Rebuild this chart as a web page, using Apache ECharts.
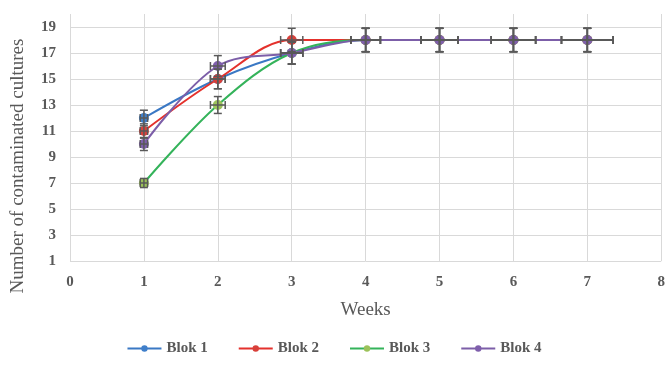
<!DOCTYPE html>
<html lang="en">
<head>
    <meta charset="UTF-8">
    <script src="https://cdn.jsdelivr.net/npm/echarts@6/dist/echarts.min.js"></script>
    <title>Contaminated cultures</title>
    <style>
        html, body { margin: 0; padding: 0; background: #fff; }
    </style>
</head>
<body>
<div id="chart" style="width: 668px;height:368px;"></div>
<script type="text/javascript">
    // data
    var weeks = [1, 2, 3, 4, 5, 6, 7];
    var blok1 = [12, 15, 17, 18, 18, 18, 18];
    var blok2 = [11, 15, 18, 18, 18, 18, 18];
    var blok3 = [7, 13, 17, 18, 18, 18, 18];
    var blok4 = [10, 16, 17, 18, 18, 18, 18];
    var names = ['Blok 1', 'Blok 2', 'Blok 3', 'Blok 4'];
    var errPct = 0.05; // 5% error bars, both directions

    var font = 'Liberation Serif';
    var gray = '#595959';
    var lineColors = ['#3a78c4', '#e4312c', '#34b35a', '#7c5ea8'];
    var markColors = ['#3f7fca', '#d8403a', '#9cc25a', '#7f5fac'];

    function pairs(vals) {
        return weeks.map(function (w, i) { return [w, vals[i]]; });
    }

    function errorBars(params, api) {
        var x = api.value(0), y = api.value(1);
        var ex = x * errPct, ey = y * errPct;
        var top = api.coord([x, y + ey]), bot = api.coord([x, y - ey]);
        var lft = api.coord([x - ex, y]), rgt = api.coord([x + ex, y]);
        var cap = 4;
        var st = { stroke: gray, lineWidth: 1.5 };
        function seg(x1, y1, x2, y2) {
            return { type: 'line', shape: { x1: x1, y1: y1, x2: x2, y2: y2 }, style: st };
        }
        return {
            type: 'group',
            children: [
                seg(top[0], top[1], bot[0], bot[1]),
                seg(top[0] - cap, top[1], top[0] + cap, top[1]),
                seg(bot[0] - cap, bot[1], bot[0] + cap, bot[1]),
                seg(lft[0], lft[1], rgt[0], rgt[1]),
                seg(lft[0], lft[1] - cap, lft[0], lft[1] + cap),
                seg(rgt[0], rgt[1] - cap, rgt[0], rgt[1] + cap)
            ]
        };
    }

    var allData = [blok1, blok2, blok3, blok4];
    var series = [];
    allData.forEach(function (vals, k) {
        series.push({
            name: names[k],
            type: 'line',
            smooth: 0.35,
            data: pairs(vals),
            symbol: 'circle',
            symbolSize: 10,
            lineStyle: { color: lineColors[k], width: 2 },
            itemStyle: { color: markColors[k] },
            z: 2
        });
    });
    allData.forEach(function (vals, k) {
        series.push({
            type: 'custom',
            renderItem: errorBars,
            data: pairs(vals),
            encode: { x: 0, y: 1 },
            silent: true,
            z: 3
        });
    });

    var myChart = echarts.init(document.getElementById('chart'));
    var option = {
        animation: false,
        backgroundColor: '#fff',
        grid: { left: 70, right: 5, top: 14, bottom: 107 },
        legend: {
            data: names,
            bottom: 7,
            left: 'center',
            itemWidth: 34,
            itemHeight: 8,
            itemGap: 30,
            textStyle: { fontFamily: font, fontWeight: 'bold', fontSize: 15, color: gray }
        },
        xAxis: {
            type: 'value',
            min: 0,
            max: 8,
            interval: 1,
            name: 'Weeks',
            nameLocation: 'middle',
            nameGap: 40,
            nameTextStyle: { fontFamily: font, fontSize: 19, color: gray },
            axisLine: { show: false },
            axisTick: { show: false },
            axisLabel: { fontFamily: font, fontWeight: 'bold', fontSize: 15, color: gray, margin: 14 },
            splitLine: { show: true, lineStyle: { color: '#d9d9d9', width: 1 } }
        },
        yAxis: {
            type: 'value',
            min: 1,
            max: 20,
            interval: 2,
            axisLine: { show: false },
            axisTick: { show: false },
            axisLabel: { fontFamily: font, fontWeight: 'bold', fontSize: 15, color: gray, margin: 14, showMaxLabel: false },
            splitLine: { show: true, showMaxLine: false, lineStyle: { color: '#d9d9d9', width: 1 } }
        },
        graphic: [{
            type: 'text',
            x: 18,
            y: 166,
            rotation: Math.PI / 2,
            style: {
                text: 'Number of contaminated cultures',
                fontFamily: font,
                fontSize: 19,
                fill: gray,
                textAlign: 'center',
                textVerticalAlign: 'middle'
            }
        }],
        series: series
    };
    myChart.setOption(option);
</script>
</body>
</html>
